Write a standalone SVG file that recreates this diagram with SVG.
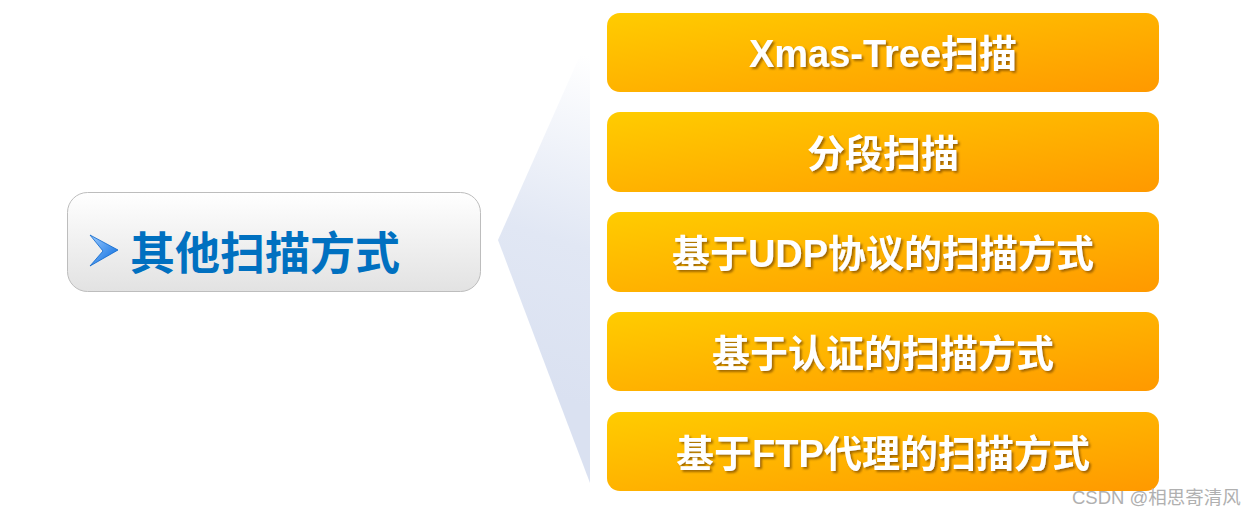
<svg xmlns="http://www.w3.org/2000/svg" width="1260" height="516" viewBox="0 0 1260 516">
<defs>
<linearGradient id="og" x1="0" y1="0" x2="1" y2="1">
<stop offset="0" stop-color="#FFCC00"/>
<stop offset="1" stop-color="#FF9900"/>
</linearGradient>
<linearGradient id="wg" x1="0" y1="0" x2="0" y2="1">
<stop offset="0" stop-color="#FFFFFF"/>
<stop offset="1" stop-color="#E2E2E2"/>
</linearGradient>
<linearGradient id="tg" x1="500" y1="380" x2="600" y2="60" gradientUnits="userSpaceOnUse">
<stop offset="0" stop-color="#DAE1F1"/>
<stop offset="0.45" stop-color="#E1E7F4"/>
<stop offset="1" stop-color="#FFFFFF"/>
</linearGradient>
<linearGradient id="ag" x1="0" y1="0" x2="1" y2="1">
<stop offset="0" stop-color="#9CCBFF"/>
<stop offset="1" stop-color="#0066DD"/>
</linearGradient>
<filter id="sh" x="-10%" y="-20%" width="120%" height="140%">
<feDropShadow dx="2" dy="2" stdDeviation="0.8" flood-color="#7A4A00" flood-opacity="0.7"/>
</filter>
<style>
.ob{fill:url(#og);}
.ot{font-family:"Liberation Sans","Noto Sans CJK SC",sans-serif;font-weight:bold;font-size:38px;fill:#FFFFFF;text-anchor:middle;filter:url(#sh);}
</style>
</defs>
<g id="fan">
<polygon points="498,240 590,33 590,483" fill="url(#tg)"/>
</g>
<g id="main">
<rect x="67.5" y="192.5" width="413" height="99" rx="20" fill="url(#wg)" stroke="#BDBDBD" stroke-width="1"/>
<polygon points="90,235 118,250 90,266 103,251" fill="url(#ag)" stroke="#0A66CC" stroke-width="0.8"/>
<text x="130" y="270" font-family="'Liberation Sans','Noto Sans CJK SC',sans-serif" font-weight="bold" font-size="45" fill="#0070C0">其他扫描方式</text>
</g>
<g id="n1"><rect class="ob" x="607" y="13" width="552" height="79" rx="13"/><text class="ot" x="883" y="67">Xmas-Tree扫描</text></g>
<g id="n2"><rect class="ob" x="607" y="112" width="552" height="80" rx="13"/><text class="ot" x="883" y="167">分段扫描</text></g>
<g id="n3"><rect class="ob" x="607" y="212" width="552" height="80" rx="13"/><text class="ot" x="883" y="267">基于UDP协议的扫描方式</text></g>
<g id="n4"><rect class="ob" x="607" y="312" width="552" height="79" rx="13"/><text class="ot" x="883" y="367">基于认证的扫描方式</text></g>
<g id="n5"><rect class="ob" x="607" y="412" width="552" height="79" rx="13"/><text class="ot" x="883" y="467">基于FTP代理的扫描方式</text></g>
<g id="connectors"></g>
<text x="1072" y="504" font-family="'Liberation Sans','Noto Sans CJK SC',sans-serif" font-size="18.5" fill="#B0B0B0">CSDN @相思寄清风</text>
</svg>
